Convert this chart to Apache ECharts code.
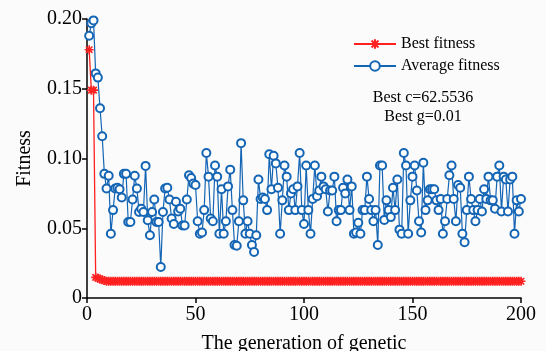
<!DOCTYPE html>
<html><head><meta charset="utf-8">
<script src="https://cdn.jsdelivr.net/npm/echarts@6/dist/echarts.min.js"></script>
<style>html,body{margin:0;padding:0;background:#fbfbfb}#c{width:546px;height:351px}</style>
</head><body><div id="c"></div>
<script>
const xTicks = [0, 50, 100, 150, 200];
const yTicks = [0, 0.05, 0.10, 0.15, 0.20];
const bestFitness = [
0.178,0.149,0.149,0.0148,0.0142,0.0136,0.013,0.0125,0.012,0.012,
0.012,0.012,0.012,0.012,0.012,0.012,0.012,0.012,0.012,0.012,
0.012,0.012,0.012,0.012,0.012,0.012,0.012,0.012,0.012,0.012,
0.012,0.012,0.012,0.012,0.012,0.012,0.012,0.012,0.012,0.012,
0.012,0.012,0.012,0.012,0.012,0.012,0.012,0.012,0.012,0.012,
0.012,0.012,0.012,0.012,0.012,0.012,0.012,0.012,0.012,0.012,
0.012,0.012,0.012,0.012,0.012,0.012,0.012,0.012,0.012,0.012,
0.012,0.012,0.012,0.012,0.012,0.012,0.012,0.012,0.012,0.012,
0.012,0.012,0.012,0.012,0.012,0.012,0.012,0.012,0.012,0.012,
0.012,0.012,0.012,0.012,0.012,0.012,0.012,0.012,0.012,0.012,
0.012,0.012,0.012,0.012,0.012,0.012,0.012,0.012,0.012,0.012,
0.012,0.012,0.012,0.012,0.012,0.012,0.012,0.012,0.012,0.012,
0.012,0.012,0.012,0.012,0.012,0.012,0.012,0.012,0.012,0.012,
0.012,0.012,0.012,0.012,0.012,0.012,0.012,0.012,0.012,0.012,
0.012,0.012,0.012,0.012,0.012,0.012,0.012,0.012,0.012,0.012,
0.012,0.012,0.012,0.012,0.012,0.012,0.012,0.012,0.012,0.012,
0.012,0.012,0.012,0.012,0.012,0.012,0.012,0.012,0.012,0.012,
0.012,0.012,0.012,0.012,0.012,0.012,0.012,0.012,0.012,0.012,
0.012,0.012,0.012,0.012,0.012,0.012,0.012,0.012,0.012,0.012,
0.012,0.012,0.012,0.012,0.012,0.012,0.012,0.012,0.012,0.012
];
const averageFitness = [
0.188,0.197,0.199,0.161,0.158,0.136,0.116,0.089,0.0785,0.0876,
0.046,0.063,0.0785,0.079,0.078,0.072,0.089,0.089,0.0545,0.0545,
0.0706,0.0876,0.0785,0.0617,0.064,0.0617,0.0947,0.0557,0.045,0.0617,
0.0706,0.0545,0.0545,0.0222,0.0617,0.0785,0.079,0.0706,0.057,0.053,
0.069,0.062,0.064,0.052,0.052,0.0706,0.088,0.086,0.082,0.081,
0.055,0.046,0.047,0.063,0.104,0.087,0.057,0.055,0.095,0.087,
0.046,0.078,0.046,0.055,0.080,0.092,0.063,0.038,0.0375,0.055,
0.111,0.070,0.046,0.055,0.046,0.038,0.033,0.045,0.085,0.071,
0.072,0.071,0.063,0.103,0.078,0.102,0.0965,0.079,0.046,0.070,
0.095,0.087,0.063,0.075,0.078,0.063,0.080,0.104,0.063,0.053,
0.095,0.063,0.046,0.071,0.095,0.073,0.077,0.087,0.080,0.078,
0.062,0.077,0.077,0.087,0.055,0.063,0.063,0.079,0.075,0.085,
0.063,0.080,0.046,0.047,0.054,0.046,0.063,0.063,0.087,0.071,
0.063,0.055,0.063,0.038,0.095,0.095,0.056,0.070,0.063,0.058,
0.079,0.063,0.085,0.049,0.046,0.104,0.095,0.046,0.070,0.087,
0.095,0.077,0.055,0.047,0.097,0.063,0.070,0.078,0.078,0.078,
0.070,0.063,0.071,0.046,0.055,0.071,0.088,0.095,0.071,0.055,
0.081,0.079,0.046,0.040,0.063,0.087,0.071,0.063,0.055,0.063,
0.071,0.062,0.078,0.071,0.087,0.070,0.070,0.064,0.087,0.095,
0.062,0.087,0.085,0.062,0.085,0.087,0.046,0.070,0.062,0.071
];
const annotations = ['Best c=62.5536', 'Best g=0.01'];

const FONT = '"Liberation Serif", "Times New Roman", serif';
const bestData = bestFitness.map((v, i) => [i + 1, v]);
const avgData = averageFitness.map((v, i) => [i + 1, v]);
const asterisk = 'path://M0,-5L0,5M-5,0L5,0M-3.6,-3.6L3.6,3.6M-3.6,3.6L3.6,-3.6';

const chart = echarts.init(document.getElementById('c'), null, {renderer: 'canvas'});
chart.setOption({
  backgroundColor: '#fbfbfb',
  animation: false,
  grid: {left: 87, right: 25, top: 19, bottom: 53, containLabel: false, outerBoundsMode: 'none'},
  legend: {
    orient: 'vertical', left: 348, top: 31, itemWidth: 42, itemHeight: 12, itemGap: 6,
    textStyle: {fontFamily: FONT, fontSize: 16, color: '#000'},
    data: ['Best fitness', 'Average fitness']
  },
  xAxis: {
    type: 'value', min: xTicks[0], max: xTicks[xTicks.length - 1], interval: 50,
    name: 'The generation of genetic', nameLocation: 'middle', nameGap: 36,
    nameTextStyle: {fontFamily: FONT, fontSize: 20, color: '#000'},
    axisLine: {lineStyle: {color: '#000', width: 1.5}},
    axisTick: {length: 5, lineStyle: {color: '#000', width: 1.5}},
    axisLabel: {fontFamily: FONT, fontSize: 20, color: '#000', margin: 7},
    splitLine: {show: false}
  },
  yAxis: {
    type: 'value', min: yTicks[0], max: yTicks[yTicks.length - 1], interval: 0.05,
    name: 'Fitness', nameLocation: 'middle', nameGap: 52,
    nameTextStyle: {fontFamily: FONT, fontSize: 20, color: '#000'},
    axisLine: {show: true, lineStyle: {color: '#000', width: 1.5}},
    axisTick: {show: true, length: 5, lineStyle: {color: '#000', width: 1.5}},
    axisLabel: {fontFamily: FONT, fontSize: 20, color: '#000', margin: 5,
      formatter: v => (v === 0 ? '0' : v.toFixed(2))},
    splitLine: {show: false}
  },
  series: [
    {
      name: 'Best fitness', type: 'line', data: bestData, showSymbol: true,
      symbol: asterisk, symbolSize: 9,
      lineStyle: {color: '#ff2020', width: 1.3},
      itemStyle: {color: '#ff2020', borderColor: '#ff2020', borderWidth: 1.6},
      z: 3
    },
    {
      name: 'Average fitness', type: 'line', data: avgData, showSymbol: true,
      symbol: 'emptyCircle', symbolSize: 8,
      lineStyle: {color: '#1565b5', width: 1.2},
      itemStyle: {color: '#1565b5', borderColor: '#1565b5', borderWidth: 1.3},
      z: 2
    }
  ],
  graphic: annotations.map((t, i) => ({
    type: 'text', x: 423, y: 98 + i * 19,
    style: {text: t, fontFamily: FONT, fontSize: 16, fill: '#000', textAlign: 'center', textVerticalAlign: 'middle'}
  }))
});
</script>
</body></html>
